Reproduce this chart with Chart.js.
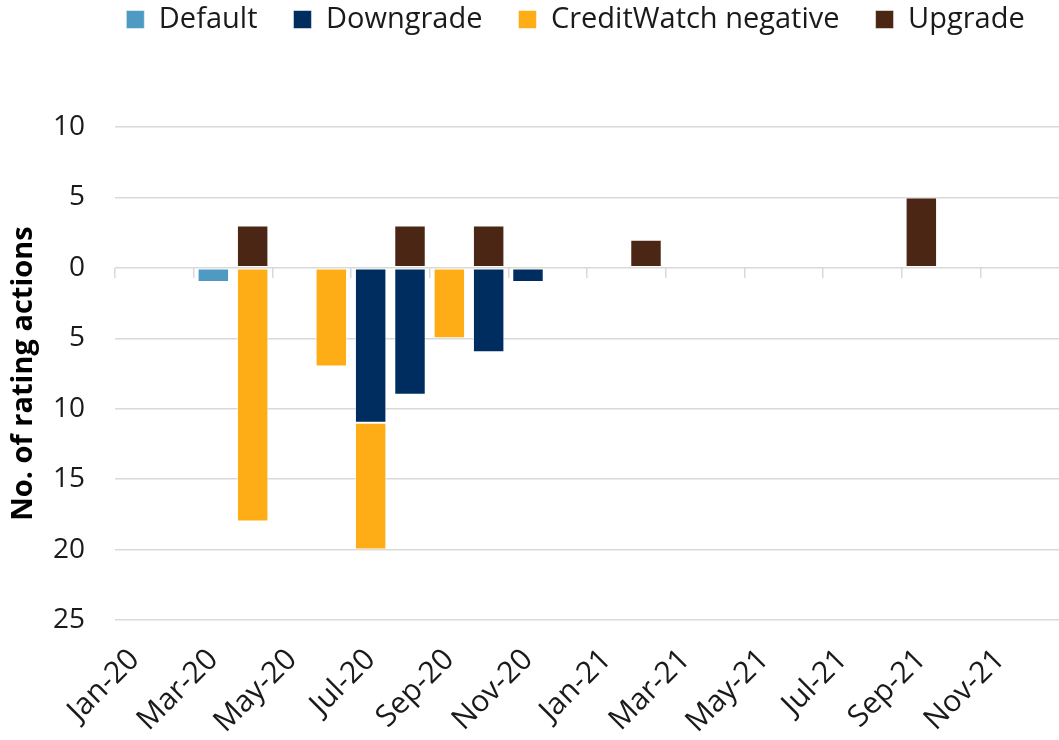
<!DOCTYPE html>
<html>
<head>
<meta charset="utf-8">
<script src="https://cdn.jsdelivr.net/npm/chart.js@4.4.1/dist/chart.umd.min.js"></script>
<style>
  body { margin: 0; background: #fff; }
  #wrap { width: 1059px; height: 740px; }
</style>
</head>
<body>
<div id="wrap"><canvas id="grafico"></canvas></div>
<script>
// Meses (jan/2020 a dez/2021)
const meses = ['Jan-20', 'Feb-20', 'Mar-20', 'Apr-20', 'May-20', 'Jun-20', 'Jul-20', 'Aug-20',
    'Sep-20', 'Oct-20', 'Nov-20', 'Dec-20', 'Jan-21', 'Feb-21', 'Mar-21', 'Apr-21',
    'May-21', 'Jun-21', 'Jul-21', 'Aug-21', 'Sep-21', 'Oct-21', 'Nov-21', 'Dec-21'];

// Ações de rating (negativas abaixo do zero)
const defaults = [null, null, -1, null, null, null, null, null, null, null, null, null,
    null, null, null, null, null, null, null, null, null, null, null, null];
const downgrades = [null, null, null, null, null, null, -11, -9, null, -6, -1, null,
    null, null, null, null, null, null, null, null, null, null, null, null];
const creditWatchNeg = [null, null, null, -18, null, -7, -9, null, -5, null, null, null,
    null, null, null, null, null, null, null, null, null, null, null, null];
const upgrades = [null, null, null, 3, null, null, null, 3, null, 3, null, null,
    null, 2, null, null, null, null, null, null, 5, null, null, null];

const yMin = -25, yMax = 10, yStep = 5;

const fonte = "'Open Sans', 'DejaVu Sans', sans-serif";
const cinzaGrade = '#d9d9d9';

// Legenda: altura fixa e deslocamento para ficar como no original
const ajusteLegenda = {
    id: 'ajusteLegenda',
    beforeInit(chart) {
        const fitOriginal = chart.legend.fit;
        chart.legend.fit = function fit() {
            fitOriginal.bind(chart.legend)();
            this.height = 127;
        };
    },
    afterLayout(chart) {
        const l = chart.legend;
        l.left += 46; l.right += 46;
        l.top -= 31; l.bottom -= 31;
    }
};

function serie(label, data, cor) {
    return {
        label: label,
        data: data,
        backgroundColor: cor,
        borderColor: 'rgba(255,255,255,0.5)',
        borderWidth: 1,
        borderSkipped: false,
        barPercentage: 0.8,
        categoryPercentage: 1.0
    };
}

const ctx = document.getElementById('grafico').getContext('2d');
const grafico = new Chart(ctx, {
    type: 'bar',
    data: {
        labels: meses,
        datasets: [
            serie('Default', defaults, '#4e9ac3'),
            serie('Downgrade', downgrades, '#002d5f'),
            serie('CreditWatch negative', creditWatchNeg, '#ffad17'),
            serie('Upgrade', upgrades, '#4b2615')
        ]
    },
    plugins: [ajusteLegenda],
    options: {
        responsive: true,
        maintainAspectRatio: false,
        animation: false,
        layout: { padding: 0 },
        plugins: {
            legend: {
                position: 'top',
                labels: {
                    boxWidth: 18,
                    boxHeight: 18,
                    padding: 36,
                    color: '#1a1a1a',
                    font: { family: fonte, size: 29 }
                }
            },
            tooltip: { enabled: false }
        },
        scales: {
            x: {
                stacked: true,
                offset: true,
                afterFit(scale) {
                    scale.height = 120;
                    scale.paddingLeft = 0;
                    scale.paddingRight = 0;
                },
                grid: { display: false, drawOnChartArea: false, drawTicks: false },
                border: { display: false },
                ticks: {
                    autoSkip: false,
                    minRotation: 45,
                    maxRotation: 45,
                    padding: 22,
                    color: '#1a1a1a',
                    font: { family: fonte, size: 30 },
                    callback: function(v, i) { return i % 2 === 0 ? this.getLabelForValue(v) : ''; }
                }
            },
            xZero: {
                axis: 'x',
                type: 'category',
                position: { y: 0 },
                offset: true,
                grid: {
                    offset: true,
                    drawOnChartArea: false,
                    drawTicks: true,
                    tickLength: 10,
                    lineWidth: 1.5,
                    color: c => (c.index % 2 === 0 ? cinzaGrade : 'rgba(0,0,0,0)')
                },
                border: { display: false },
                ticks: { display: false }
            },
            y: {
                stacked: true,
                min: yMin,
                max: yMax,
                afterFit(scale) { scale.width = 115; },
                grid: { color: cinzaGrade, lineWidth: 1.5, drawTicks: false },
                border: { display: false },
                ticks: {
                    stepSize: yStep,
                    padding: 30,
                    color: '#1a1a1a',
                    font: { family: fonte, size: 28 },
                    callback: v => Math.abs(v)
                },
                title: {
                    display: true,
                    text: 'No. of rating actions',
                    color: '#000',
                    padding: { top: 6, bottom: 4 },
                    font: { family: fonte, size: 29, weight: 'bold' }
                }
            }
        }
    }
});
</script>
</body>
</html>
